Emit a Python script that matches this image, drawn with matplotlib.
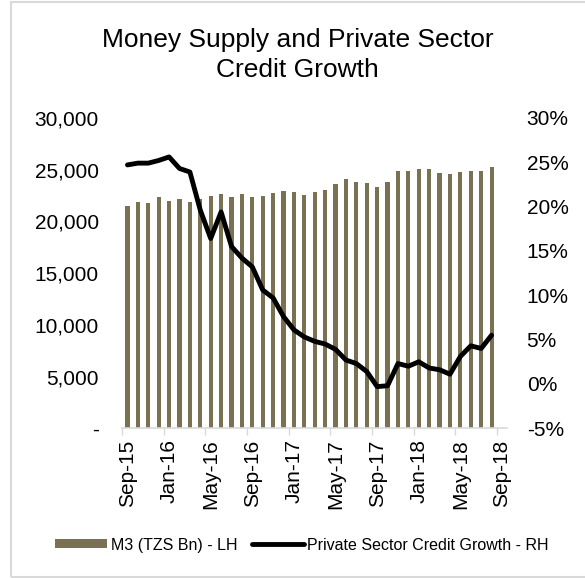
import matplotlib
matplotlib.use("Agg")
import numpy as np
from matplotlib import pyplot as plt
from matplotlib.patches import Rectangle
from matplotlib.ticker import FuncFormatter, FixedLocator

plt.rcParams['font.family'] = ['Liberation Sans', 'DejaVu Sans']

# monthly M3 money supply, TZS bn (Sep-15 .. Aug-18)
m3 = [21490, 21880, 21750, 22330, 21980, 22170, 21880, 22200, 22460, 22650,
      22390, 22620, 22390, 22460, 22750, 22940, 22850, 22560, 22820, 23010,
      23620, 24070, 23780, 23690, 23300, 23780, 24880, 24910, 25100, 25040,
      24650, 24620, 24750, 24910, 24910, 25230]

# private sector credit growth, % y/y
credit = [24.7, 24.9, 24.9, 25.2, 25.6, 24.3, 23.9, 19.6, 16.4, 19.4,
          15.5, 14.2, 13.2, 10.6, 9.7, 7.6, 6.1, 5.3, 4.8, 4.5,
          3.9, 2.7, 2.3, 1.4, -0.3, -0.2, 2.3, 2.0, 2.5, 1.8,
          1.6, 1.1, 3.1, 4.3, 4.0, 5.5]

tick_labels = ['Sep-15', 'Jan-16', 'May-16', 'Sep-16', 'Jan-17',
               'May-17', 'Sep-17', 'Jan-18', 'May-18', 'Sep-18']

bar_color = '#7A7152'
grey = '#D9D9D9'

fig = plt.figure(figsize=(5.85, 5.78), dpi=100)
ax = fig.add_axes([0.209, 0.259, 0.658, 0.537])
ax2 = ax.twinx()

x = np.arange(len(m3))
bars = ax.bar(x, m3, width=0.4, color=bar_color, label='M3 (TZS Bn) - LH')
line, = ax2.plot(x, credit, color='black', lw=3.5, solid_joinstyle='round',
                 solid_capstyle='round', label='Private Sector Credit Growth - RH')

n_cat = len(m3) + 1
ax.set_xlim(-0.5, n_cat - 0.5)
ax.set_ylim(0, 30000)
ax2.set_ylim(-5, 30)

# tick marks sit on month boundaries, labels on the month itself
label_pos = list(range(0, n_cat, 4))
ax.xaxis.set_major_locator(FixedLocator([p - 0.5 for p in label_pos]))
ax.xaxis.set_minor_locator(FixedLocator(label_pos))
ax.set_xticklabels([], minor=False)
ax.set_xticklabels(tick_labels, minor=True, rotation=90, fontsize=15)
ax.tick_params(axis='x', which='major', length=5, width=1, color=grey, direction='out')
ax.tick_params(axis='x', which='minor', length=0, pad=8)

ax.set_yticks(np.arange(0, 30001, 5000))
ax.yaxis.set_major_formatter(FuncFormatter(lambda v, p: '-' if v == 0 else f'{v:,.0f}'))
ax.tick_params(axis='y', length=0, pad=17, labelsize=15)

ax2.set_yticks(np.arange(-5, 31, 5))
ax2.yaxis.set_major_formatter(FuncFormatter(lambda v, p: f'{v:.0f}%'))
ax2.tick_params(axis='y', length=0, pad=14, labelsize=15)

for a in (ax, ax2):
    for s in ('top', 'left', 'right'):
        a.spines[s].set_visible(False)
ax2.spines['bottom'].set_visible(False)
ax.spines['bottom'].set_color(grey)
ax.spines['bottom'].set_linewidth(1.2)

fig.text(0.509, 1 - 47 / 578, 'Money Supply and Private Sector',
         ha='center', va='baseline', fontsize=19)
fig.text(0.509, 1 - 77 / 578, 'Credit Growth',
         ha='center', va='baseline', fontsize=19)

fig.legend(handles=[bars, line], loc='center', bbox_to_anchor=(0.516, 0.057),
           ncol=2, frameon=False, fontsize=11.5, handlelength=3.3,
           handleheight=0.5, columnspacing=0.9, handletextpad=0.2)

fig.patches.append(Rectangle((11 / 585, 1 / 578), 1.0, 575 / 578,
                             transform=fig.transFigure, fill=False,
                             edgecolor=grey, lw=1.5))

fig.savefig('out.png', dpi=100)
